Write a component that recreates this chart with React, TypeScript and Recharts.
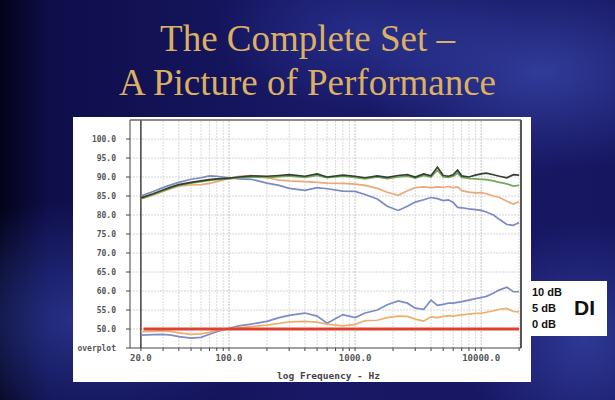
import { LineChart, Line, XAxis, YAxis, ReferenceLine } from "recharts";

// frequency points (Hz) the curves were read at
const freqs = [
  20, 25, 30, 35, 40, 50, 60, 70, 80, 100, 120, 150, 200, 250, 300, 400, 500, 600, 800, 1000,
  1200, 1500, 1800, 2200, 2600, 3000, 3500, 4000, 4500, 5000, 5500, 6000, 6500, 7000, 8000,
  9000, 10000, 11000, 12500, 14000, 16000, 18000, 20000,
];

// response curves (dB)
const darkCurve = [
  84.5, 85.6, 86.6, 87.4, 88.0, 88.6, 89.0, 89.3, 89.5, 89.7, 90.0, 90.3, 90.2, 90.4, 90.6, 90.2,
  90.8, 90.0, 90.5, 90.2, 89.8, 90.3, 89.9, 90.4, 90.6, 90.0, 90.8, 90.3, 92.6, 90.4, 90.2, 90.6,
  91.8, 90.3, 90.0, 90.5, 90.8, 91.0, 90.6, 90.2, 89.8, 90.6, 90.5,
];
const greenCurve = [
  84.3, 85.4, 86.4, 87.2, 87.8, 88.4, 88.8, 89.1, 89.3, 89.5, 89.8, 90.0, 89.9, 90.1, 90.3, 89.9,
  90.4, 89.8, 90.2, 89.9, 89.5, 90.0, 89.6, 90.0, 90.2, 89.7, 90.4, 90.0, 91.8, 90.0, 89.9, 90.2,
  91.0, 89.9, 89.6, 89.5, 89.4, 89.3, 89.0, 88.6, 88.2, 87.6, 87.8,
];
const orangeCurve = [
  84.2, 85.2, 86.2, 87.0, 87.6, 87.9, 88.0, 88.3, 88.8, 89.6, 90.2, 90.4, 89.8, 89.2, 89.0, 88.8,
  88.6, 88.4, 88.3, 88.1, 87.8, 87.0, 86.0, 85.2, 86.4, 87.2, 87.4, 87.2, 87.4, 87.3, 87.5, 87.2,
  87.4, 86.4, 86.0, 85.8, 85.9, 85.6, 85.0, 84.6, 83.6, 82.9, 83.5,
];
const blueCurve = [
  85.0, 86.2, 87.2, 88.0, 88.6, 89.4, 89.8, 90.3, 90.2, 89.8, 89.5, 89.4, 88.4, 87.8, 87.0, 86.5,
  87.2, 86.9, 86.3, 86.2, 85.4, 84.2, 82.3, 81.2, 82.3, 83.4, 84.0, 84.6, 84.3, 83.8, 84.0, 83.3,
  82.0, 81.9, 81.6, 81.4, 81.2, 80.8, 80.0, 78.8, 77.5, 77.3, 78.0,
];

// directivity index curves, plotted on the same scale (50 = 0 dB)
const diBlue = [
  48.4, 48.5, 48.6, 48.4, 48.0, 47.6, 47.8, 48.6, 49.3, 50.2, 50.8, 51.3, 52.0, 53.0, 53.6, 54.2,
  53.4, 51.5, 53.8, 53.0, 54.2, 55.0, 56.4, 57.4, 56.8, 55.5, 55.2, 57.6, 56.2, 56.5, 56.8, 56.8,
  57.0, 57.2, 57.6, 58.0, 58.3, 58.6, 59.4, 60.3, 61.0, 59.8, 59.8,
];
const diOrange = [
  49.3, 49.4, 49.5, 49.3, 49.0, 48.6, 48.7, 49.1, 49.6, 50.0, 50.3, 50.6, 51.0, 51.5, 51.9, 52.0,
  51.8, 51.3, 50.8, 51.2, 52.2, 52.3, 53.0, 53.4, 53.3, 52.6, 52.1, 53.2, 53.0, 53.3, 53.5, 53.4,
  53.6, 53.7, 53.9, 54.1, 54.2, 54.4, 54.8, 55.2, 55.4, 54.6, 54.5,
];

const gridFreqs = [
  20, 30, 40, 50, 60, 70, 80, 90, 100, 200, 300, 400, 500, 600, 700, 800, 900, 1000, 2000, 3000,
  4000, 5000, 6000, 7000, 8000, 9000, 10000, 20000,
];
const labelFreqs = [20, 100, 1000, 10000];
const yTicks = [45, 50, 55, 60, 65, 70, 75, 80, 85, 90, 95, 100];
const diLabels = ["10 dB", "5 dB", "0 dB"];

const data = freqs.map((f, i) => ({
  f,
  dark: darkCurve[i],
  green: greenCurve[i],
  orange: orangeCurve[i],
  blue: blueCurve[i],
  diBlue: diBlue[i],
  diOrange: diOrange[i],
}));

const mono = "'DejaVu Sans Mono', monospace";

export default function App() {
  return (
    <div
      style={{
        position: "fixed",
        left: 0,
        top: 0,
        width: 615,
        height: 400,
        overflow: "hidden",
        background:
          "radial-gradient(ellipse 30% 25% at 88% 18%, rgba(70,90,200,0.55), transparent)," +
          "radial-gradient(ellipse 30% 30% at 12% 80%, rgba(60,80,190,0.5), transparent)," +
          "radial-gradient(ellipse 25% 20% at 60% 8%, rgba(60,80,190,0.4), transparent)," +
          "radial-gradient(ellipse 20% 30% at 95% 85%, rgba(70,90,200,0.5), transparent)," +
          "linear-gradient(90deg, #03031a 0%, #0e0e4a 8%, #181866 50%, #161660 100%)",
      }}
    >
      <div
        style={{
          position: "absolute",
          left: 0,
          width: 615,
          top: 17,
          textAlign: "center",
          fontFamily: "'Liberation Serif', 'Times New Roman', serif",
          fontSize: 37,
          lineHeight: "44px",
          color: "#dcb062",
        }}
      >
        <div>The Complete Set –</div>
        <div>A Picture of Performance</div>
      </div>

      {/* DI label box */}
      <div
        style={{
          position: "absolute",
          left: 527,
          top: 281,
          width: 80,
          height: 55,
          background: "#fff",
          fontFamily: "'Liberation Sans', Arial, sans-serif",
          fontWeight: "bold",
          color: "#111",
        }}
      >
        {diLabels.map((t, i) => (
          <div
            key={t}
            style={{ position: "absolute", left: 5, top: 5 + i * 16, fontSize: 11, lineHeight: "12px" }}
          >
            {t}
          </div>
        ))}
        <div style={{ position: "absolute", left: 47, top: 16, fontSize: 21, lineHeight: "22px" }}>DI</div>
      </div>

      <div
        style={{
          position: "absolute",
          left: 73,
          top: 117,
          width: 458,
          height: 265,
          background: "#fff",
          overflow: "hidden",
        }}
      >
        <LineChart width={458} height={265} data={data} margin={{ top: 3, right: 10, bottom: 0, left: 0 }}>
          {yTicks.slice(1).map((v) => (
            <ReferenceLine key={"h" + v} y={v} stroke="#d4d4d4" strokeDasharray="2 1" />
          ))}
          {gridFreqs.map((f) => (
            <ReferenceLine
              key={"v" + f}
              x={f}
              stroke={labelFreqs.includes(f) ? "#c4c4c4" : "#dadada"}
              strokeDasharray="2 1"
            />
          ))}
          <ReferenceLine x={20} stroke="#444" strokeWidth={1.5} />
          <ReferenceLine y={105} stroke="#666" strokeWidth={1.5} />
          <ReferenceLine x={20700} stroke="#555" strokeWidth={2} />
          <XAxis
            dataKey="f"
            type="number"
            scale="log"
            domain={[16.4, 20700]}
            allowDataOverflow
            ticks={gridFreqs}
            interval={0}
            tickFormatter={(v: number) => (labelFreqs.includes(v) ? v.toFixed(1) : "")}
            tick={{ fontSize: 9, fontFamily: mono, fontWeight: "bold", fill: "#555" }}
            tickSize={3}
            tickMargin={4}
            stroke="#444"
            height={34}
          />
          <YAxis
            type="number"
            domain={[45, 105]}
            ticks={yTicks}
            interval={0}
            allowDataOverflow
            tickFormatter={(v: number) => (v === 45 ? "overplot" : v.toFixed(1))}
            tick={{ fontSize: 8, fontFamily: mono, fontWeight: "bold", fill: "#555" }}
            tickSize={4}
            tickMargin={10}
            stroke="#444"
            width={57}
          />
          <Line dataKey="blue" stroke="#7b89c4" strokeWidth={1.7} dot={false} isAnimationActive={false} />
          <Line dataKey="orange" stroke="#eaa978" strokeWidth={1.7} dot={false} isAnimationActive={false} />
          <Line dataKey="green" stroke="#72a85a" strokeWidth={1.7} dot={false} isAnimationActive={false} />
          <Line dataKey="dark" stroke="#34412f" strokeWidth={1.7} dot={false} isAnimationActive={false} />
          <Line dataKey="diBlue" stroke="#7b8cc8" strokeWidth={1.7} dot={false} isAnimationActive={false} />
          <Line dataKey="diOrange" stroke="#eab070" strokeWidth={1.7} dot={false} isAnimationActive={false} />
          <ReferenceLine
            segment={[
              { x: 21, y: 50 },
              { x: 20000, y: 50 },
            ]}
            stroke="#e0402c"
            strokeWidth={3}
          />
        </LineChart>
        <div
          style={{
            position: "absolute",
            left: 204,
            top: 253,
            fontFamily: mono,
            fontWeight: "bold",
            fontSize: 9.5,
            color: "#444",
            whiteSpace: "nowrap",
          }}
        >
          log Frequency - Hz
        </div>
      </div>
    </div>
  );
}
